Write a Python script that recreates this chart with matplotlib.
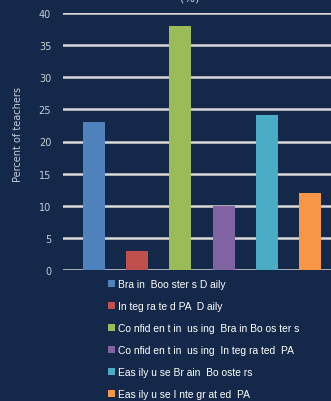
import matplotlib
matplotlib.use("Agg")
import matplotlib.pyplot as plt
from matplotlib.patches import Patch

categories = ["Brain Boosters Daily", "Integrated PA Daily",
              "Confident in using Brain Boosters", "Confident in using Integrated PA",
              "Easily use Brain Boosters", "Easily use Integrated PA"]
legend_labels = ["Bra in  Boo ster s D aily", "In teg ra te d PA  D aily",
                 "Co nfid en t in  us ing  Bra in Bo os ter s",
                 "Co nfid en t in  us ing  In teg ra ted  PA",
                 "Eas ily u se Br ain  Bo oste rs",
                 "Eas ily u se I nte gr at ed  PA"]
values = [23, 3, 38, 10, 24.2, 12]
colors = ["#4f81bd", "#c0504d", "#9bbb59", "#8064a2", "#4bacc6", "#f79646"]
yticks = [0, 5, 10, 15, 20, 25, 30, 35, 40]

bg = "#14284a"
W, H = 331, 402
fig = plt.figure(figsize=(W/100, H/100), dpi=100, facecolor=bg)
ax = fig.add_axes([63/W, 1-271/H, 1-63/W, (271-14)/H])
ax.set_facecolor(bg)
ax.set_axisbelow(True)
x = list(range(len(values)))
ax.bar(x, values, width=0.51, color=colors, zorder=3)
ax.set_xlim(-0.72, 5.49)
ax.set_ylim(0, 40)
ax.set_yticks(yticks)
ax.yaxis.grid(True, color="#d9d9d9", linewidth=1.8)
ax.set_xticks([])
for s in ax.spines.values():
    s.set_visible(False)
ax.tick_params(axis="y", length=0, pad=8.5, labelsize=7, labelcolor="#c8cdd6")
ax.set_ylabel("Percent of teachers", color="#c8cdd6", fontsize=7)
ax.yaxis.set_label_coords((23-63)/(W-63), 0.53)

fig.text(190/W, 1.004, "(%)", color="#c8cdd6", fontsize=8, ha="center", va="center")

handles = [Patch(facecolor=c, edgecolor="none") for c in colors]
fig.legend(handles, legend_labels, loc="upper left", bbox_to_anchor=(104/W, 1-276/H),
           frameon=False, prop={"family": "Liberation Sans", "size": 7.4},
           labelcolor="white", handlelength=0.65,
           handleheight=0.65, handletextpad=0.35, labelspacing=1.17, borderaxespad=0)
fig.savefig("out.png", dpi=100, facecolor=bg)
